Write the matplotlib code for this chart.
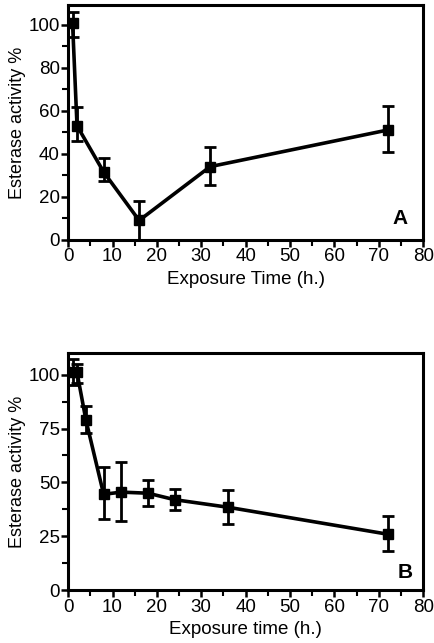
import matplotlib
matplotlib.use('Agg')
import matplotlib.pyplot as plt
from matplotlib.ticker import MultipleLocator

plt.rcParams['font.family'] = ['Liberation Sans', 'DejaVu Sans']

# Panel A
time_a = [1, 2, 8, 16, 32, 72]
act_a = [100.5, 53, 31.5, 9, 34, 51]
err_lo_a = [6.5, 7, 4, 9, 8.5, 10]
err_hi_a = [5.5, 8.5, 6.5, 9, 9, 11]

# Panel B
time_b = [1, 2, 4, 8, 12, 18, 24, 36, 72]
act_b = [101, 101, 79, 44.5, 45.5, 45, 42, 38.5, 26]
err_lo_b = [6, 5, 6, 11.5, 13.5, 6, 5, 8, 8]
err_hi_b = [6, 4, 6.5, 12.5, 14, 6, 5, 8, 8.5]

fig = plt.figure(figsize=(4.34, 6.43), dpi=100)
ax1 = fig.add_axes([0.157, 0.627, 0.818, 0.365])
ax2 = fig.add_axes([0.157, 0.082, 0.818, 0.369])


def draw(ax, x, y, lo, hi, ymax, major, minor, xlabel, letter, lx, ly):
    ax.errorbar(x, y, yerr=[lo, hi], color='black', lw=2.6, marker='s',
                ms=6.5, capsize=4, capthick=2, elinewidth=2)
    ax.set_xlim(0, 80)
    ax.set_ylim(0, ymax)
    ax.xaxis.set_major_locator(MultipleLocator(10))
    ax.xaxis.set_minor_locator(MultipleLocator(5))
    ax.yaxis.set_major_locator(MultipleLocator(major))
    ax.yaxis.set_minor_locator(MultipleLocator(minor))
    ax.tick_params(which='major', direction='out', length=5, width=1.8,
                   labelsize=13.5, pad=1)
    ax.tick_params(which='minor', direction='out', length=4, width=1.5)
    for s in ax.spines.values():
        s.set_linewidth(2.2)
    ax.set_xlabel(xlabel, fontsize=13.5, labelpad=4)
    ax.set_ylabel('Esterase activity %', fontsize=13, labelpad=2)
    ax.text(lx, ly, letter, transform=ax.transAxes, ha='right',
            va='bottom', fontsize=15, fontweight='bold')


draw(ax1, time_a, act_a, err_lo_a, err_hi_a, 109, 20, 10,
     'Exposure Time (h.)', 'A', 0.955, 0.05)
draw(ax2, time_b, act_b, err_lo_b, err_hi_b, 110, 25, 12.5,
     'Exposure time (h.)', 'B', 0.97, 0.035)

fig.savefig('out.png', dpi=100)
